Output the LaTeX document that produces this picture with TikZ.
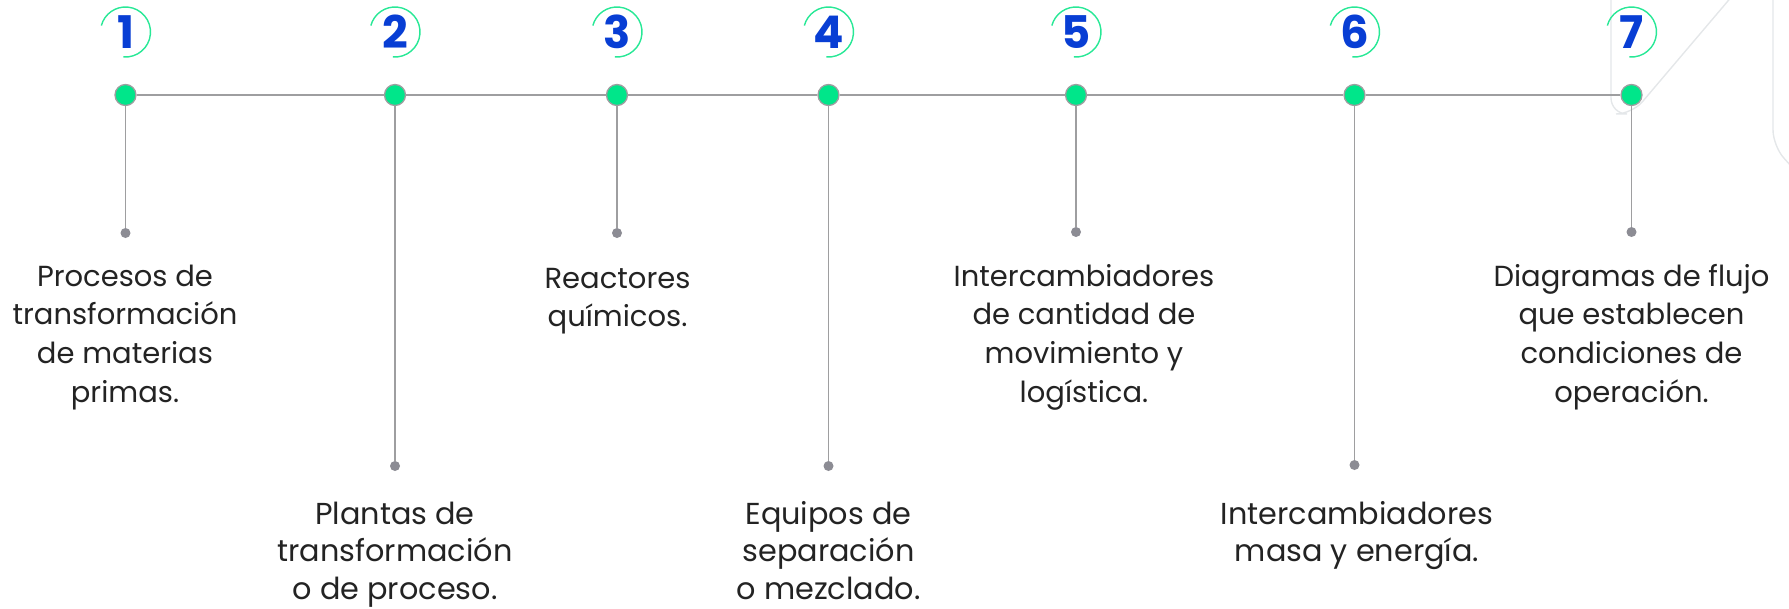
\documentclass[tikz,border=0pt]{standalone}
\usepackage{fontspec}
\setmainfont{Poppins}
\definecolor{dotgreen}{RGB}{0,230,138}
\definecolor{arcgreen}{RGB}{40,232,150}
\definecolor{numblue}{RGB}{8,62,212}
\definecolor{linegrey}{RGB}{158,158,160}
\definecolor{enddot}{RGB}{140,140,148}
\definecolor{txt}{RGB}{35,35,35}
\definecolor{deco}{RGB}{228,231,233}
\tikzset{
  bigdot/.style={circle,fill=dotgreen,draw=linegrey,line width=1.3pt,minimum size=21pt,inner sep=0pt},
  enddotstyle/.style={circle,fill=enddot,minimum size=10pt,inner sep=0pt},
  conn/.style={draw=linegrey,line width=1.6pt},
  numtext/.style={font=\fontsize{45}{47}\selectfont\bfseries,text=numblue,inner sep=0pt},
  numarc/.style={draw=arcgreen,line width=1.4pt},
  toptext/.style={font=\fontsize{29}{38.7}\selectfont,text=txt,align=center,anchor=north,inner sep=0pt},
  bottext/.style={font=\fontsize{30.3}{37.4}\selectfont,text=txt,align=center,anchor=north,inner sep=0pt},
  decoline/.style={draw=deco,line width=1.4pt,rounded corners=16pt}
}
\begin{document}
\begin{tikzpicture}[x=1pt,y=-1pt]
\useasboundingbox (0,0) rectangle (1789,608);
% decoration
\draw[decoline] (1611,-5) -- (1611,114) -- (1632,114) -- (1733,-5);
\draw[decoline] (1773,-5) -- (1773,146) -- (1800,176);
% main dots
\foreach \n/\x in {1/125.5,2/395,3/617,4/828.5,5/1076,6/1354.5,7/1631.5}{
  \node[bigdot] (d\n) at (\x,95) {};
  \node[numtext] (n\n) at (\x,32) {\n};
  \draw[numarc] (\x,32) ++(95:25) arc[start angle=95,end angle=-165,radius=25];
}
% end dots
\node[enddotstyle] (e1) at (125.5,233) {};
\node[enddotstyle] (e2) at (395,466) {};
\node[enddotstyle] (e3) at (617,233) {};
\node[enddotstyle] (e4) at (828.5,466) {};
\node[enddotstyle] (e5) at (1076,232) {};
\node[enddotstyle] (e6) at (1354.5,465) {};
\node[enddotstyle] (e7) at (1631.5,232) {};
% connectors
\draw[conn] (d1) -- (d2);
\draw[conn] (d2) -- (d3);
\draw[conn] (d3) -- (d4);
\draw[conn] (d4) -- (d5);
\draw[conn] (d5) -- (d6);
\draw[conn] (d6) -- (d7);
\foreach \n in {1,...,7}{\draw[conn] (d\n) -- (e\n);}
% texts
\node[toptext] (t1) at (125,258.8) {\strut Procesos de\\transformación\\de materias\\primas.};
\node[bottext] (t2) at (395,498) {\strut Plantas de\\transformación\\o de proceso.};
\node[toptext] (t3) at (617.5,261) {\strut Reactores\\químicos.};
\node[bottext] (t4) at (828.5,498) {\strut Equipos de\\separación\\o mezclado.};
\node[toptext] (t5) at (1084,258.8) {\strut Intercambiadores\\de cantidad de\\movimiento y\\logística.};
\node[bottext] (t6) at (1357,498) {\strut Intercambiadores\\masa y energía.};
\node[toptext] (t7) at (1631.5,258.8) {\strut Diagramas de flujo\\que establecen\\condiciones de\\operación.};
\end{tikzpicture}
\end{document}
